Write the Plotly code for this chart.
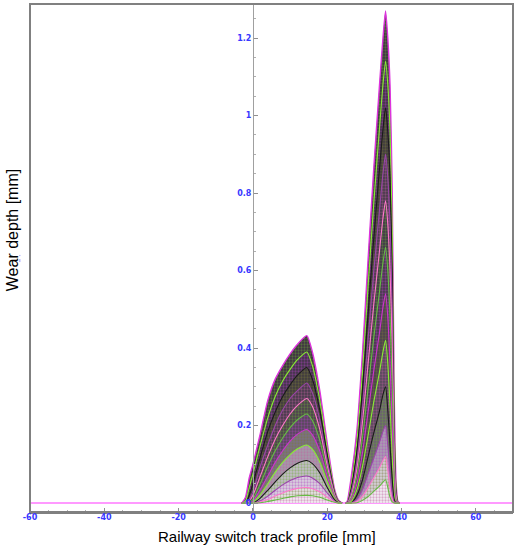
import plotly.graph_objects as go

# ---------------- data ----------------
# left wear zone (switch rail head), x in mm
left_x = [-3, -2, -1, 0, 2, 4, 6, 8, 10, 12, 14.5, 16, 18, 20, 22, 23, 24]
left_stages = [
    [0, 0.015, 0.065, 0.10, 0.18, 0.265, 0.32, 0.355, 0.385, 0.41, 0.432, 0.39, 0.29, 0.155, 0.035, 0.008, 0],
    [0, 0.005, 0.04, 0.075, 0.15, 0.22, 0.275, 0.315, 0.345, 0.37, 0.39, 0.355, 0.265, 0.14, 0.03, 0.006, 0],
    [0, 0, 0.02, 0.05, 0.12, 0.185, 0.235, 0.275, 0.305, 0.33, 0.35, 0.32, 0.24, 0.125, 0.027, 0.005, 0],
    [0, 0, 0.01, 0.03, 0.095, 0.15, 0.20, 0.24, 0.27, 0.29, 0.31, 0.285, 0.215, 0.11, 0.024, 0.004, 0],
    [0, 0, 0.005, 0.02, 0.07, 0.12, 0.165, 0.20, 0.23, 0.252, 0.27, 0.25, 0.19, 0.097, 0.02, 0.003, 0],
    [0, 0, 0, 0.01, 0.05, 0.095, 0.135, 0.168, 0.195, 0.215, 0.23, 0.213, 0.162, 0.083, 0.017, 0.003, 0],
    [0, 0, 0, 0.005, 0.035, 0.07, 0.105, 0.135, 0.16, 0.178, 0.19, 0.176, 0.134, 0.069, 0.014, 0.002, 0],
    [0, 0, 0, 0.002, 0.022, 0.05, 0.08, 0.105, 0.125, 0.14, 0.15, 0.139, 0.106, 0.055, 0.011, 0.002, 0],
    [0, 0, 0, 0, 0.013, 0.033, 0.055, 0.075, 0.091, 0.103, 0.11, 0.102, 0.078, 0.04, 0.008, 0.001, 0],
    [0, 0, 0, 0, 0.006, 0.018, 0.033, 0.047, 0.058, 0.066, 0.07, 0.065, 0.05, 0.026, 0.005, 0.001, 0],
    [0, 0, 0, 0, 0.003, 0.009, 0.018, 0.026, 0.033, 0.038, 0.04, 0.037, 0.029, 0.015, 0.003, 0, 0],
    [0, 0, 0, 0, 0.001, 0.004, 0.008, 0.012, 0.016, 0.019, 0.02, 0.019, 0.015, 0.008, 0.002, 0, 0],
]

# right wear zone (stock rail gauge corner), x in mm
right_x = [25, 25.4, 26.5, 28, 29.5, 31, 32.5, 34, 35, 35.7, 36.3, 36.9, 37.5, 38.0, 38.5, 39.0, 39.5]
right_stages = [
    [0, 0.005, 0.07, 0.19, 0.39, 0.63, 0.86, 1.07, 1.20, 1.27, 1.20, 1.08, 0.80, 0.30, 0.06, 0.005, 0],
    [0, 0, 0.05, 0.16, 0.34, 0.56, 0.77, 0.96, 1.08, 1.14, 1.08, 0.96, 0.70, 0.25, 0.045, 0.003, 0],
    [0, 0, 0.04, 0.135, 0.295, 0.49, 0.68, 0.855, 0.965, 1.02, 0.96, 0.84, 0.60, 0.20, 0.035, 0.002, 0],
    [0, 0, 0.03, 0.11, 0.25, 0.425, 0.595, 0.75, 0.85, 0.90, 0.84, 0.72, 0.50, 0.16, 0.025, 0, 0],
    [0, 0, 0.02, 0.09, 0.21, 0.36, 0.51, 0.645, 0.735, 0.78, 0.72, 0.60, 0.40, 0.12, 0.018, 0, 0],
    [0, 0, 0.015, 0.07, 0.17, 0.295, 0.425, 0.54, 0.62, 0.66, 0.60, 0.48, 0.30, 0.085, 0.01, 0, 0],
    [0, 0, 0.01, 0.05, 0.13, 0.235, 0.34, 0.435, 0.505, 0.54, 0.48, 0.36, 0.20, 0.05, 0.005, 0, 0],
    [0, 0, 0.005, 0.035, 0.095, 0.175, 0.26, 0.335, 0.39, 0.42, 0.36, 0.25, 0.12, 0.025, 0, 0, 0],
    [0, 0, 0, 0.02, 0.06, 0.12, 0.18, 0.235, 0.28, 0.30, 0.24, 0.15, 0.06, 0.01, 0, 0, 0],
    [0, 0, 0, 0.01, 0.035, 0.075, 0.115, 0.155, 0.185, 0.20, 0.15, 0.08, 0.025, 0.003, 0, 0, 0],
    [0, 0, 0, 0.004, 0.018, 0.04, 0.065, 0.09, 0.11, 0.12, 0.085, 0.04, 0.01, 0, 0, 0, 0],
    [0, 0, 0, 0.001, 0.007, 0.017, 0.03, 0.043, 0.054, 0.06, 0.04, 0.015, 0.003, 0, 0, 0, 0],
]

baseline_x = [-60, 70]
baseline_y = [0, 0]

x_ticks = [-60, -40, -20, 0, 20, 40, 60]
x_tick_labels = ["-60", "-40", "-20", "0", "20", "40", "60"]
y_ticks = [0, 0.2, 0.4, 0.6, 0.8, 1.0, 1.2]
y_tick_labels = ["0", "0.2", "0.4", "0.6", "0.8", "1", "1.2"]

# ---------------- styles ----------------
left_fill = ['#3d3042', '#413447', '#3f3a3e', '#463a4a', '#4c404f', '#554959',
             '#7a7083', '#a39aa9', '#c3bcc9', '#d9d4de', '#e8e5ec', '#f2f0f4']
right_fill = ['#3d3042', '#413447', '#3f3a3e', '#463a4a', '#41364a', '#463a4a',
              '#4c404f', '#55495a', '#6a5f70', '#a89fb0', '#d6d0dc', '#f2f0f4']
line_cycle = ['#cc33cc', '#88ee33', '#1a1a1a', '#9944aa', '#ff77cc', '#66bb44']
dot_cycle = ['#6faa3a', '#b044c0', '#7a7a3a', '#c060a0']

fig = go.Figure()

fig.add_trace(go.Scatter(x=baseline_x, y=baseline_y, mode='lines',
                         line=dict(color='#ff77ff', width=1.5), hoverinfo='skip'))

def add_stages(xs, stages, fills):
    for i, ys in enumerate(stages):
        lc = '#dd33dd' if i == 0 else line_cycle[i % len(line_cycle)]
        fig.add_trace(go.Scatter(
            x=xs, y=ys, mode='lines', fill='tozeroy',
            fillcolor=fills[i],
            fillpattern=dict(shape='.', size=3, solidity=0.45,
                             fgcolor=dot_cycle[i % len(dot_cycle)],
                             bgcolor=fills[i]),
            line=dict(color=lc, width=1.4 if i == 0 else 1.1,
                      shape='spline', smoothing=0.6),
            hoverinfo='skip'))

add_stages(left_x, left_stages, left_fill)
add_stages(right_x, right_stages, right_fill)

tick_font = dict(family='DejaVu Sans', size=8, color='#3838ff', weight='bold')

fig.update_layout(
    width=519, height=550,
    margin=dict(l=30, r=6, t=4, b=38),
    paper_bgcolor='white', plot_bgcolor='white',
    showlegend=False,
    xaxis=dict(range=[-60, 70], tickvals=x_ticks, ticktext=x_tick_labels,
               showgrid=False, zeroline=False, showline=True,
               linecolor='#808080', linewidth=2,
               ticks='inside', ticklen=4, tickcolor='#909090',
               minor=dict(dtick=5, ticks='inside', ticklen=2, tickcolor='#b0b0b0'),
               tickfont=tick_font, ticklabelstandoff=-4),
    yaxis=dict(range=[-0.023, 1.288], tickvals=y_ticks, ticktext=y_tick_labels,
               anchor='free', position=60 / 130,
               showgrid=False, zeroline=False, showline=True,
               linecolor='#a0a0a0', linewidth=1,
               ticks='inside', ticklen=4, tickcolor='#909090',
               minor=dict(dtick=0.05, ticks='inside', ticklen=2, tickcolor='#b0b0b0'),
               tickfont=tick_font),
    shapes=[dict(type='rect', xref='paper', yref='paper', x0=0, x1=1, y0=0, y1=1,
                 line=dict(color='#808080', width=2), layer='above'),
            dict(type='line', xref='paper', yref='paper', x0=-0.021, x1=-0.021,
                 y0=0.492, y1=0.506, line=dict(color='#9999ff', width=1, dash='dot'))],
    annotations=[
        dict(text='Railway switch track profile [mm]', xref='paper', yref='paper',
             x=0.49, y=-0.049, xanchor='center', yanchor='middle', showarrow=False,
             font=dict(family='Liberation Sans', size=15, color='black')),
        dict(text='Wear depth [mm]', xref='paper', yref='paper',
             x=-0.037, y=0.555, xanchor='center', yanchor='middle',
             textangle=-90, showarrow=False,
             font=dict(family='Liberation Sans', size=16, color='black')),
    ],
)

fig.write_html('out.html', config={'displayModeBar': False},
               post_script="document.body.style.margin='0';document.body.style.padding='0';")
